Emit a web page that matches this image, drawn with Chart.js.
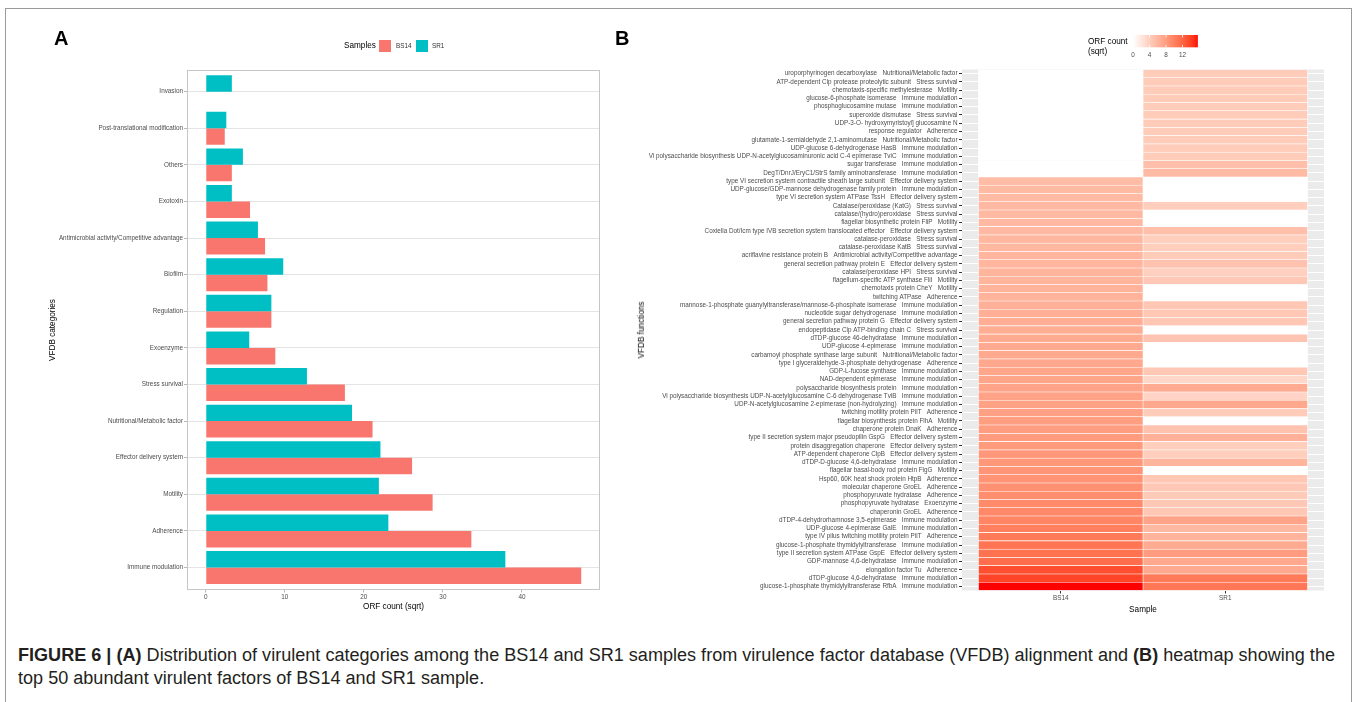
<!DOCTYPE html>
<html><head><meta charset="utf-8">
<script src="https://cdn.jsdelivr.net/npm/chart.js@4.4.1/dist/chart.umd.min.js"></script>
<style>
html,body{margin:0;padding:0;background:#fff;}
body{width:1357px;height:702px;position:relative;overflow:hidden;font-family:"Liberation Sans",Arial,Helvetica,sans-serif;}
#frame{position:absolute;left:5px;top:8px;width:1347px;height:720px;border:1px solid #9a9a9a;box-sizing:border-box;}
canvas{position:absolute;top:0;}
.t{position:absolute;white-space:nowrap;line-height:1;}
#cap{position:absolute;left:18px;top:644px;font-size:18px;line-height:23px;color:#231f20;white-space:nowrap;transform-origin:0 0;}
#cap b{font-weight:bold;}
</style></head>
<body>
<div id="frame"></div>
<canvas id="cA" width="610" height="620" style="left:0px;width:610px;height:620px"></canvas>
<canvas id="cB" width="747" height="620" style="left:610px;width:747px;height:620px"></canvas>
<div id="cap"><div id="l1"><b>FIGURE 6 |</b> <b>(A)</b> Distribution of virulent categories among the BS14 and SR1 samples from virulence factor database (VFDB) alignment and <b>(B)</b> heatmap showing the</div><div id="l2">top 50 abundant virulent factors of BS14 and SR1 sample.</div></div>
<script>
// ---------- Panel A data ----------
const categories = ['Invasion','Post-translational modification','Others','Exotoxin','Antimicrobial activity/Competitive advantage','Biofilm','Regulation','Exoenzyme','Stress survival','Nutritional/Metabolic factor','Effector delivery system','Motility','Adherence','Immune modulation'];
const bs14Counts = [null, 2.4, 3.3, 5.6, 7.5, 7.8, 8.3, 8.8, 17.6, 21.1, 26.1, 28.7, 33.6, 47.5];
const sr1Counts  = [3.3, 2.6, 4.7, 3.3, 6.6, 9.8, 8.3, 5.5, 12.8, 18.5, 22.1, 21.9, 23.1, 37.9];
const xTicksA = [0, 10, 20, 30, 40];

// ---------- Panel B data ----------
const functionNames = [
'uroporphyrinogen decarboxylase','ATP-dependent Clp protease proteolytic subunit','chemotaxis-specific methylesterase','glucose-6-phosphate isomerase','phosphoglucosamine mutase','superoxide dismutase','UDP-3-O- hydroxymyristoyl] glucosamine N','response regulator','glutamate-1-semialdehyde 2,1-aminomutase','UDP-glucose 6-dehydrogenase HasB',
'Vi polysaccharide biosynthesis UDP-N-acetylglucosaminuronic acid C-4 epimerase TviC','sugar transferase','DegT/DnrJ/EryC1/StrS family aminotransferase','type VI secretion system contractile sheath large subunit','UDP-glucose/GDP-mannose dehydrogenase family protein','type VI secretion system ATPase TssH','Catalase/peroxidase (KatG)','catalase/(hydro)peroxidase','flagellar biosynthetic protein FliP','Coxiella Dot/Icm type IVB secretion system translocated effector',
'catalase-peroxidase','catalase-peroxidase KatB','acriflavine resistance protein B','general secretion pathway protein E','catalase/peroxidase HPI','flagellum-specific ATP synthase FliI','chemotaxis protein CheY','twitching ATPase','mannose-1-phosphate guanylyltransferase/mannose-6-phosphate isomerase','nucleotide sugar dehydrogenase',
'general secretion pathway protein G','endopeptidase Clp ATP-binding chain C','dTDP-glucose 46-dehydratase','UDP-glucose 4-epimerase','carbamoyl phosphate synthase large subunit','type I glyceraldehyde-3-phosphate dehydrogenase','GDP-L-fucose synthase','NAD-dependent epimerase','polysaccharide biosynthesis protein','Vi polysaccharide biosynthesis UDP-N-acetylglucosamine C-6 dehydrogenase TviB',
'UDP-N-acetylglucosamine 2-epimerase (non-hydrolyzing)','twitching motility protein PilT','flagellar biosynthesis protein FlhA','chaperone protein DnaK','type II secretion system major pseudopilin GspG','protein disaggregation chaperone','ATP-dependent chaperone ClpB','dTDP-D-glucose 4,6-dehydratase','flagellar basal-body rod protein FlgG','Hsp60, 60K heat shock protein HtpB',
'molecular chaperone GroEL','phosphopyruvate hydratase','phosphopyruvate hydratase','chaperonin GroEL','dTDP-4-dehydrorhamnose 3,5-epimerase','UDP-glucose 4-epimerase GalE','type IV pilus twitching motility protein PilT','glucose-1-phosphate thymidylyltransferase','type II secretion system ATPase GspE','GDP-mannose 4,6-dehydratase',
'elongation factor Tu','dTDP-glucose 4,6-dehydratase','glucose-1-phosphate thymidylyltransferase RfbA'];
const functionCategories = [
'Nutritional/Metabolic factor','Stress survival','Motility','Immune modulation','Immune modulation','Stress survival','','Adherence','Nutritional/Metabolic factor','Immune modulation',
'Immune modulation','Immune modulation','Immune modulation','Effector delivery system','Immune modulation','Effector delivery system','Stress survival','Stress survival','Motility','Effector delivery system',
'Stress survival','Stress survival','Antimicrobial activity/Competitive advantage','Effector delivery system','Stress survival','Motility','Motility','Adherence','Immune modulation','Immune modulation',
'Effector delivery system','Stress survival','Immune modulation','Immune modulation','Nutritional/Metabolic factor','Adherence','Immune modulation','Immune modulation','Immune modulation','Immune modulation',
'Immune modulation','Adherence','Motility','Adherence','Effector delivery system','Effector delivery system','Effector delivery system','Immune modulation','Motility','Adherence',
'Adherence','Adherence','Exoenzyme','Adherence','Immune modulation','Immune modulation','Adherence','Immune modulation','Effector delivery system','Immune modulation',
'Adherence','Immune modulation','Immune modulation'];
const sampleNames = ['BS14', 'SR1'];
const heatBS14 = [0,0,0,0,0,0,0,0,0,0,0,0,0,
 5.5,5.6,5.6,5.7,5.7,5.8,5.8,
 5.9,5.9,6.0,6.0,6.1,6.1,6.2,6.2,
 6.4,6.5,6.6,6.7,6.8,6.9,7.0,
 7.1,7.2,7.3,7.4,7.5,7.6,7.7,
 7.8,7.9,8.0,8.1,8.3,8.4,8.6,8.7,
 8.9,9.1,9.3,9.5,9.7,
 10.2,10.5,10.9,11.1,11.4,
 13.3,13.8,15.7];
const heatSR1 = [4.2,4.2,4.2,4.2,4.2,4.2,4.2,4.2,4.2,4.2,4.2,5.2,5.6,
 0,0,0,4.0,0,0,5.2,
 4.0,4.0,4.2,5.0,3.9,4.5,0,0,
 4.6,4.6,4.6,0,4.8,0,0,
 0,4.6,3.3,6.8,3.5,7.1,4.2,
 0,5.0,6.4,4.0,4.0,6.1,0,4.6,
 4.5,4.3,4.5,4.6,7.4,
 5.8,6.2,6.8,8.0,7.1,
 6.9,10.5,10.7];
const colorbarTicks = [0, 4, 8, 12];

// ---------- colour scale (white -> red, Lab interpolation like ggplot) ----------
function lin(c){c/=255;return c<=0.04045?c/12.92:Math.pow((c+0.055)/1.055,2.4);}
function gam(c){c=c<=0.0031308?12.92*c:1.055*Math.pow(Math.max(c,0),1/2.4)-0.055;return Math.round(Math.min(1,Math.max(0,c))*255);}
function toLab(rgb){const R=lin(rgb[0]),G=lin(rgb[1]),B=lin(rgb[2]);
 const X=(0.4124564*R+0.3575761*G+0.1804375*B)/0.95047,Y=(0.2126729*R+0.7151522*G+0.0721750*B),Z=(0.0193339*R+0.1191920*G+0.9503041*B)/1.08883;
 const f=t=>t>0.008856?Math.cbrt(t):7.787*t+16/116;const fx=f(X),fy=f(Y),fz=f(Z);
 return [116*fy-16,500*(fx-fy),200*(fy-fz)];}
function fromLab(L,a,b){const fy=(L+16)/116,fx=fy+a/500,fz=fy-b/200;
 const fi=t=>{const t3=t*t*t;return t3>0.008856?t3:(t-16/116)/7.787;};
 const X=fi(fx)*0.95047,Y=fi(fy),Z=fi(fz)*1.08883;
 const R=3.2404542*X-1.5371385*Y-0.4985314*Z,G=-0.9692660*X+1.8760108*Y+0.0415560*Z,B=0.0556434*X-0.2040259*Y+1.0572252*Z;
 return 'rgb('+gam(R)+','+gam(G)+','+gam(B)+')';}
const lowLab=toLab([255,255,255]), highLab=toLab([255,0,0]);
const heatMax = Math.max(...heatBS14, ...heatSR1);
function heatColor(v){const t=Math.max(0,Math.min(1,v/heatMax));
 return fromLab(lowLab[0]+(highLab[0]-lowLab[0])*t, lowLab[1]+(highLab[1]-lowLab[1])*t, lowLab[2]+(highLab[2]-lowLab[2])*t);}

const FAM = '"Liberation Sans", Arial, Helvetica, sans-serif';
const TICK_FONT = {family: FAM, size: 6.35};

// ---------- Panel A ----------
const panelBorder = {id:'panelBorder', afterDatasetsDraw(c){const a=c.chartArea,x=c.ctx;x.save();x.strokeStyle='#C6C6C6';x.lineWidth=1;
 x.strokeRect(Math.round(a.left)+0.5,Math.round(a.top)+0.5,Math.round(a.right-a.left)-1,Math.round(a.bottom-a.top)-1);x.restore();}};

new Chart(document.getElementById('cA'), {
 type:'bar',
 data:{datasets:[
  {label:'SR1', data: sr1Counts.map((v,i)=>({x:v,y:i})), backgroundColor:'#00BFC4'},
  {label:'BS14', data: bs14Counts.map((v,i)=>({x:v,y:i})), backgroundColor:'#F8766D'}
 ]},
 options:{
  indexAxis:'y', responsive:false, animation:false, devicePixelRatio:1,
  layout:{padding:{left:0, top:69.7, right:10, bottom:0}},
  plugins:{legend:{display:false}, tooltip:{enabled:false}},
  datasets:{bar:{categoryPercentage:0.9, barPercentage:1}},
  scales:{
   y:{type:'linear', reverse:true, offset:false, min:-0.6, max:categories.length-0.4,
      afterBuildTicks:s=>{s.ticks=categories.map((_,i)=>({value:i}));},
      afterFit:s=>{s.width=187;},
      ticks:{callback:v=>categories[v], autoSkip:false, padding:1, color:'#4D4D4D', font:TICK_FONT},
      grid:{offset:false, color:'#E4E4E4', tickColor:'#B8B8B8', tickLength:3, lineWidth:1},
      border:{display:false}},
   x:{type:'linear', offset:false, min:-2.375, max:49.875,
      afterBuildTicks:s=>{s.ticks=xTicksA.map(v=>({value:v}));},
      afterFit:s=>{s.height=30.5;},
      ticks:{autoSkip:false, padding:1, color:'#4D4D4D', font:TICK_FONT, maxRotation:0},
      grid:{offset:false, drawOnChartArea:false, tickColor:'#B8B8B8', tickLength:3},
      border:{display:false}}
  }
 },
 plugins:[panelBorder]
});

// ---------- Panel B ----------
const heatLabels = functionNames.map((n,i)=>functionCategories[i] ? n+'   '+functionCategories[i] : n);
const greyBg = {id:'greyBg', beforeDraw(c){const a=c.chartArea,x=c.ctx;x.save();x.fillStyle='#EBEBEB';x.fillRect(a.left,a.top,a.right-a.left,a.bottom-a.top);x.restore();}};
const colorbar = {id:'colorbar', afterDraw(c){const x=c.ctx;const x0=1133-610,y0=35,w=64.8,h=12.3;x.save();
  for(let p=0;p<Math.ceil(w);p++){x.fillStyle=heatColor((p+0.5)/w*heatMax);x.fillRect(x0+p,y0,Math.min(1.2,w-p),h);}
  x.strokeStyle='#ffffff';x.lineWidth=0.8;
  colorbarTicks.forEach(v=>{const px=x0+v/heatMax*w;x.beginPath();x.moveTo(px,y0);x.lineTo(px,y0+2.5);x.moveTo(px,y0+h);x.lineTo(px,y0+h-2.5);x.stroke();});
  x.restore();}};

const mkSet=(name,vals)=>({label:name, data:vals.map(()=>1), backgroundColor:vals.map(heatColor), borderColor:'#FFFFFF', borderWidth:0.6, borderSkipped:false, barPercentage:1, categoryPercentage:1, stack:'s'});
new Chart(document.getElementById('cB'), {
 type:'bar',
 data:{labels:heatLabels, datasets:[mkSet(sampleNames[0],heatBS14), mkSet(sampleNames[1],heatSR1)]},
 options:{
  indexAxis:'y', responsive:false, animation:false, devicePixelRatio:1,
  layout:{padding:{left:0, top:69.5, right:33, bottom:0}},
  plugins:{legend:{display:false}, tooltip:{enabled:false}},
  scales:{
   y:{type:'category', stacked:true, offset:true,
      afterFit:s=>{s.width=352;},
      ticks:{autoSkip:false, padding:1.5, color:'#4D4D4D', font:TICK_FONT},
      grid:{offset:false, color:'#FFFFFF', tickColor:'#333333', tickLength:3, lineWidth:1},
      border:{display:false}},
   x:{type:'linear', stacked:true, offset:false, min:-0.1, max:sampleNames.length+0.1,
      afterBuildTicks:s=>{s.ticks=sampleNames.map((_,i)=>({value:i+0.5}));},
      afterFit:s=>{s.height=29.5;},
      ticks:{autoSkip:false, callback:(v,i)=>sampleNames[i], padding:1, color:'#4D4D4D', font:TICK_FONT, maxRotation:0},
      grid:{offset:false, drawOnChartArea:false, tickColor:'#333333', tickLength:3},
      border:{display:false}}
  }
 },
 plugins:[greyBg, colorbar]
});

// ---------- HTML text ----------
function addText(txt,x,y,o){const d=document.createElement('div');d.className='t';d.textContent=txt;
 d.style.left=x+'px';d.style.top=y+'px';d.style.fontSize=o.size+'px';d.style.color=o.color||'#000';
 if(o.bold)d.style.fontWeight='bold';
 const tx=o.anchor==='center'?'-50%':(o.anchor==='right'?'-100%':'0');
 d.style.transform='translate('+tx+',-50%)';
 if(o.rot){d.style.transformOrigin='50% 50%';d.style.transform='translate(-50%,-50%) rotate('+o.rot+'deg)';}
 document.body.appendChild(d);return d;}
function addBox(x,y,w,h,c){const d=document.createElement('div');d.style.cssText='position:absolute;left:'+x+'px;top:'+y+'px;width:'+w+'px;height:'+h+'px;background:'+c;document.body.appendChild(d);}

addText('A',54,38,{size:20,bold:true});
addText('B',615,38,{size:20,bold:true});
// panel A legend
addText('Samples',344,46,{size:8.2});
addBox(379,40,12,12,'#F8766D');
addText('BS14',396,46,{size:6.35,color:'#333'});
addBox(416,40,12,12,'#00BFC4');
addText('SR1',432,46,{size:6.35,color:'#333'});
// axis titles
addText('VFDB categories',53,330,{size:8.2,rot:-90});
addText('ORF count (sqrt)',393.5,607,{size:8.2,anchor:'center'});
addText('VFDB functions',642,330,{size:8.2,rot:-90});
addText('Sample',1143,610,{size:8.2,anchor:'center'});
// panel B legend
addText('ORF count',1088,42,{size:8.2});
addText('(sqrt)',1088,52,{size:8.2});
colorbarTicks.forEach(v=>addText(String(v),1133+v/heatMax*64.8,55,{size:6.35,anchor:'center',color:'#4D4D4D'}));

// caption fit (condensed look)
const cap=document.getElementById('cap');const l1=document.getElementById('l1');
const w1=l1.getBoundingClientRect().width; cap.style.transform='scaleX('+(1317/w1)+')';
</script>
</body></html>
